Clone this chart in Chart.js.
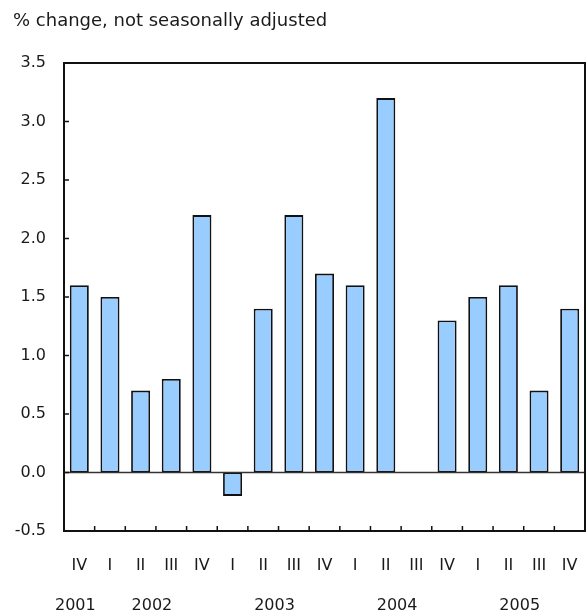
<!DOCTYPE html>
<html>
<head>
<meta charset="utf-8">
<script src="https://cdn.jsdelivr.net/npm/chart.js@4"></script>
<style>
  html, body { margin: 0; padding: 0; background: #fff; overflow: hidden; }
  #wrap { width: 586px; height: 616px; }
  canvas { display: block; }
</style>
</head>
<body>
<div id="wrap"><canvas id="c" width="586" height="616"></canvas></div>
<script>
const title = '% change, not seasonally adjusted';
const quarters = ['IV','I','II','III','IV','I','II','III','IV','I','II','III','IV','I','II','III','IV'];
const values = [1.6, 1.5, 0.7, 0.8, 2.2, -0.2, 1.4, 2.2, 1.7, 1.6, 3.2, null, 1.3, 1.5, 1.6, 0.7, 1.4];
const years = ['2001','2002','2003','2004','2005'];
const yearFirst = [0, 1, 5, 9, 13];
const yearLast = [0, 4, 8, 12, 16];
const yMin = -0.5, yMax = 3.5, yStep = 0.5;

const FONT = 'DejaVu Sans';
const TXT = '#1a1a1a';

const framePlugin = {
  id: 'frame',
  afterDraw(chart) {
    const ctx = chart.ctx;
    const a = chart.chartArea;
    const xs = chart.scales.x, ys = chart.scales.y;
    ctx.save();
    // zero line
    const y0 = ys.getPixelForValue(0);
    ctx.strokeStyle = '#333';
    ctx.lineWidth = 1.5;
    ctx.beginPath(); ctx.moveTo(a.left, y0); ctx.lineTo(a.right, y0); ctx.stroke();
    // frame
    ctx.strokeStyle = '#111';
    ctx.lineWidth = 2;
    ctx.strokeRect(a.left, a.top, a.right - a.left, a.bottom - a.top);
    // inward y ticks
    ctx.lineWidth = 1.5;
    for (let v = yMin; v <= yMax + 1e-9; v += yStep) {
      const y = ys.getPixelForValue(v);
      ctx.beginPath(); ctx.moveTo(a.left, y); ctx.lineTo(a.left + 5, y); ctx.stroke();
    }
    // inward x ticks at category boundaries
    for (let i = 1; i < quarters.length; i++) {
      const x = (xs.getPixelForValue(i - 1) + xs.getPixelForValue(i)) / 2;
      ctx.beginPath(); ctx.moveTo(x, a.bottom); ctx.lineTo(x, a.bottom - 5); ctx.stroke();
    }
    // year labels
    ctx.fillStyle = TXT;
    ctx.font = '16px "' + FONT + '"';
    ctx.textAlign = 'center';
    ctx.textBaseline = 'middle';
    for (let k = 0; k < years.length; k++) {
      const x = (xs.getPixelForValue(yearFirst[k]) + xs.getPixelForValue(yearLast[k])) / 2 - 4;
      ctx.fillText(years[k], x, 606);
    }
    // title
    ctx.textAlign = 'left';
    ctx.font = '18px "' + FONT + '"';
    ctx.fillText(title, 13, 21);
    ctx.restore();
  }
};

new Chart(document.getElementById('c'), {
  type: 'bar',
  data: {
    labels: quarters,
    datasets: [{
      data: values,
      backgroundColor: '#99CCFF',
      borderColor: '#111',
      borderWidth: 1.8,
      borderSkipped: false,
      barPercentage: 0.62,
      categoryPercentage: 1.0
    }]
  },
  options: {
    responsive: false,
    animation: false,
    devicePixelRatio: 1,
    layout: { padding: { top: 63, right: 1, left: 0, bottom: 0 } },
    plugins: { legend: { display: false }, tooltip: { enabled: false }, title: { display: false } },
    scales: {
      x: {
        grid: { display: false, drawTicks: false },
        border: { display: false },
        ticks: { color: TXT, font: { family: FONT, size: 16 }, padding: 25, maxRotation: 0, autoSkip: false },
        afterFit(s) { s.height = 85; s.paddingLeft = 0; s.paddingRight = 0; }
      },
      y: {
        min: yMin, max: yMax,
        grid: { display: false, drawTicks: false },
        border: { display: false },
        ticks: {
          stepSize: yStep, color: TXT, font: { family: FONT, size: 16 }, padding: 18,
          callback: v => Number(v).toFixed(1)
        },
        afterFit(s) { s.width = 64; }
      }
    }
  },
  plugins: [framePlugin]
});
</script>
</body>
</html>
